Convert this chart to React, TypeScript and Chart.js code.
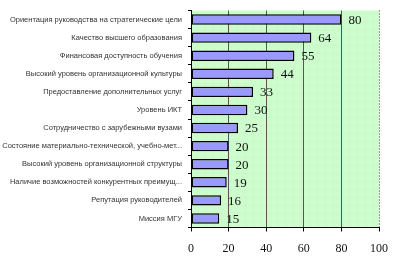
import React, { useEffect, useRef } from "react";
import { Chart, registerables } from "chart.js";

Chart.register(...registerables);

const categories = [
  "Ориентация руководства на стратегические цели",
  "Качество высшего образования",
  "Финансовая доступность обучения",
  "Высокий уровень организационной культуры",
  "Предоставление дополнительных услуг",
  "Уровень ИКТ",
  "Сотрудничество с зарубежными вузами",
  "Состояние материально-технической, учебно-мет...",
  "Высокий уровень организационной структуры",
  "Наличие возможностей конкурентных преимущ...",
  "Репутация руководителей",
  "Миссия МГУ",
];
const values = [80, 64, 55, 44, 33, 30, 25, 20, 20, 19, 16, 15];
const xTicks = [0, 20, 40, 60, 80, 100];

const PLOT_LEFT = 191;
const PLOT_TOP = 1.5;
const PLOT_BOTTOM = 227.5;

function makePattern(): CanvasPattern | string {
  const c = document.createElement("canvas");
  c.width = 8;
  c.height = 8;
  const g = c.getContext("2d");
  if (!g) return "#ccffcc";
  g.fillStyle = "#ccfccc";
  g.fillRect(0, 0, 8, 8);
  g.fillStyle = "#f4fff4";
  g.fillRect(1, 1, 1, 1);
  g.fillStyle = "#b4ecb4";
  g.fillRect(5, 5, 1, 1);
  const p = g.createPattern(c, "repeat");
  return p || "#ccffcc";
}

const bgPlugin = {
  id: "plotBg",
  beforeDraw(chart: any) {
    const { ctx, chartArea } = chart;
    ctx.save();
    ctx.fillStyle = makePattern();
    ctx.fillRect(
      chartArea.left,
      chartArea.top,
      chartArea.right - chartArea.left,
      chartArea.bottom - chartArea.top
    );
    ctx.restore();
  },
  afterDatasetsDraw(chart: any) {
    const { ctx, chartArea } = chart;
    ctx.save();
    ctx.strokeStyle = "#333";
    ctx.lineWidth = 1;
    ctx.setLineDash([1, 2]);
    ctx.beginPath();
    ctx.moveTo(Math.round(chartArea.right) + 0.5, chartArea.top);
    ctx.lineTo(Math.round(chartArea.right) + 0.5, chartArea.bottom);
    ctx.stroke();
    ctx.setLineDash([]);
    const meta = chart.getDatasetMeta(0);
    ctx.fillStyle = "#111";
    ctx.font = "13px 'Liberation Serif', 'DejaVu Serif', serif";
    ctx.textBaseline = "middle";
    ctx.textAlign = "left";
    meta.data.forEach((el: any, i: number) => {
      ctx.fillText(String(values[i]), el.x + 7, el.y + 1);
    });
    ctx.restore();
  },
};

export default function App() {
  const ref = useRef<HTMLCanvasElement>(null);
  useEffect(() => {
    document.body.style.margin = "0";
    const canvas = ref.current;
    if (!canvas) return;
    const chart = new Chart(canvas, {
      type: "bar",
      data: {
        labels: categories,
        datasets: [
          {
            data: values,
            backgroundColor: "#9999ff",
            borderColor: "#000",
            borderWidth: 1.5,
            borderSkipped: false,
            barPercentage: 0.58,
            categoryPercentage: 1,
          },
        ],
      },
      options: {
        indexAxis: "y",
        animation: false,
        responsive: false,
        maintainAspectRatio: false,
        layout: { padding: { top: PLOT_TOP, right: 18, bottom: 0, left: 0 } },
        plugins: {
          legend: { display: false },
          tooltip: { enabled: false },
        },
        scales: {
          x: {
            min: 0,
            max: 100,
            afterBuildTicks(scale: any) {
              scale.ticks = xTicks.map((v) => ({ value: v }));
            },
            afterFit(scale: any) {
              scale.height = 265 - PLOT_BOTTOM;
            },
            ticks: {
              color: "#111",
              padding: 10,
              font: { family: "'Liberation Serif', 'DejaVu Serif', serif", size: 12 },
            },
            grid: {
              drawOnChartArea: true,
              tickLength: 4,
              color: (ctx: any) =>
                ctx.index === 0 || ctx.index === 5 ? "rgba(0,0,0,0)" : "#555",
              tickColor: "#000",
              lineWidth: 1,
            },
            border: { display: true, color: "#000", width: 1 },
          },
          y: {
            afterFit(scale: any) {
              scale.width = PLOT_LEFT;
            },
            ticks: {
              color: "#333",
              padding: 6,
              autoSkip: false,
              font: { family: "'Liberation Sans', Arial, sans-serif", size: 7.5 },
            },
            grid: {
              drawOnChartArea: false,
              drawTicks: true,
              tickLength: 3,
              offset: true,
              color: "#000",
            },
            border: { display: true, color: "#000", width: 1 },
          },
        },
      },
      plugins: [bgPlugin],
    });
    return () => chart.destroy();
  }, []);
  return (
    <div style={{ position: "relative", width: 398, height: 265 }}>
      <canvas ref={ref} width={398} height={265} style={{ display: "block" }} />
    </div>
  );
}
